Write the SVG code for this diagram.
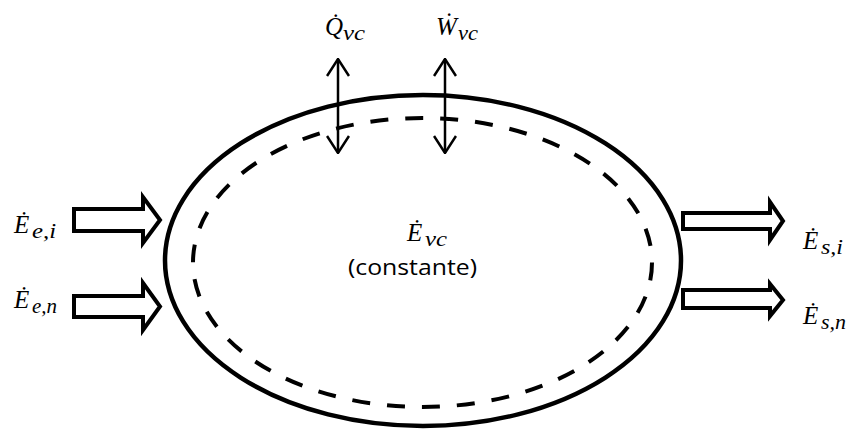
<svg xmlns="http://www.w3.org/2000/svg" width="849" height="432" viewBox="0 0 849 432">
<style>
.blk{fill:#fff;stroke:#000;stroke-width:4;stroke-linejoin:miter;stroke-miterlimit:10}
.dbl{fill:none;stroke:#000;stroke-width:2.5}
.m{font-family:"Liberation Serif","DejaVu Serif",serif;font-style:italic;font-size:25px;fill:#000}
.s{font-family:"Liberation Serif","DejaVu Serif",serif;font-style:italic;font-size:20px;fill:#000}
.t{font-family:"Open Sans","Noto Sans","Liberation Sans",sans-serif;font-size:21px;fill:#000}
</style>
<defs>
<marker id="open" viewBox="0 0 20 24" refX="19" refY="12" markerWidth="20" markerHeight="24" markerUnits="userSpaceOnUse" orient="auto-start-reverse">
<path d="M2,1 L19,12 L2,23" fill="none" stroke="#000" stroke-width="2.5"/>
</marker>
</defs>
<rect width="849" height="432" fill="#fff"/>
<g id="boundary">
<ellipse cx="423" cy="260.5" rx="258" ry="165.5" fill="none" stroke="#000" stroke-width="4.5"/>
<ellipse cx="422.5" cy="262.5" rx="229.5" ry="144.5" fill="none" stroke="#000" stroke-width="4" stroke-dasharray="18 17"/>
</g>
<g id="connectors">
<polygon class="blk" points="74,209 143,209 143,197 160,220 143,243 143,231 74,231"/>
<polygon class="blk" points="74,296 143,296 143,283 160,306.5 143,330 143,317 74,317"/>
<polygon class="blk" points="683,213 770,213 770,202 783,221 770,240 770,229 683,229"/>
<polygon class="blk" points="683,290 770,290 770,284 783,300 770,316 770,308 683,308"/>
<line class="dbl" x1="338" y1="59" x2="338" y2="153" marker-start="url(#open)" marker-end="url(#open)"/>
<line class="dbl" x1="445" y1="59" x2="445" y2="153" marker-start="url(#open)" marker-end="url(#open)"/>
</g>
<g id="labels">
<text class="m" x="14" y="233">Ė</text>
<text class="s" x="32" y="238" textLength="24" lengthAdjust="spacingAndGlyphs">e,i</text>
<text class="m" x="14" y="308">Ė</text>
<text class="s" x="32" y="313" textLength="25" lengthAdjust="spacingAndGlyphs">e,n</text>
<text class="m" x="803" y="249">Ė</text>
<text class="s" x="821" y="254" textLength="22" lengthAdjust="spacingAndGlyphs">s,i</text>
<text class="m" x="803" y="324">Ė</text>
<text class="s" x="821" y="329" textLength="25" lengthAdjust="spacingAndGlyphs">s,n</text>
<text class="m" x="325" y="35">Q̇</text>
<text class="s" x="343" y="40" textLength="22" lengthAdjust="spacingAndGlyphs">vc</text>
<text class="m" x="436" y="35">Ẇ</text>
<text class="s" x="458" y="40" textLength="20" lengthAdjust="spacingAndGlyphs">vc</text>
<text class="m" x="407" y="241">Ė</text>
<text class="s" x="425" y="246" textLength="22" lengthAdjust="spacingAndGlyphs">vc</text>
<text class="t" x="348" y="275" textLength="129" lengthAdjust="spacingAndGlyphs">(constante)</text>
</g>
</svg>
